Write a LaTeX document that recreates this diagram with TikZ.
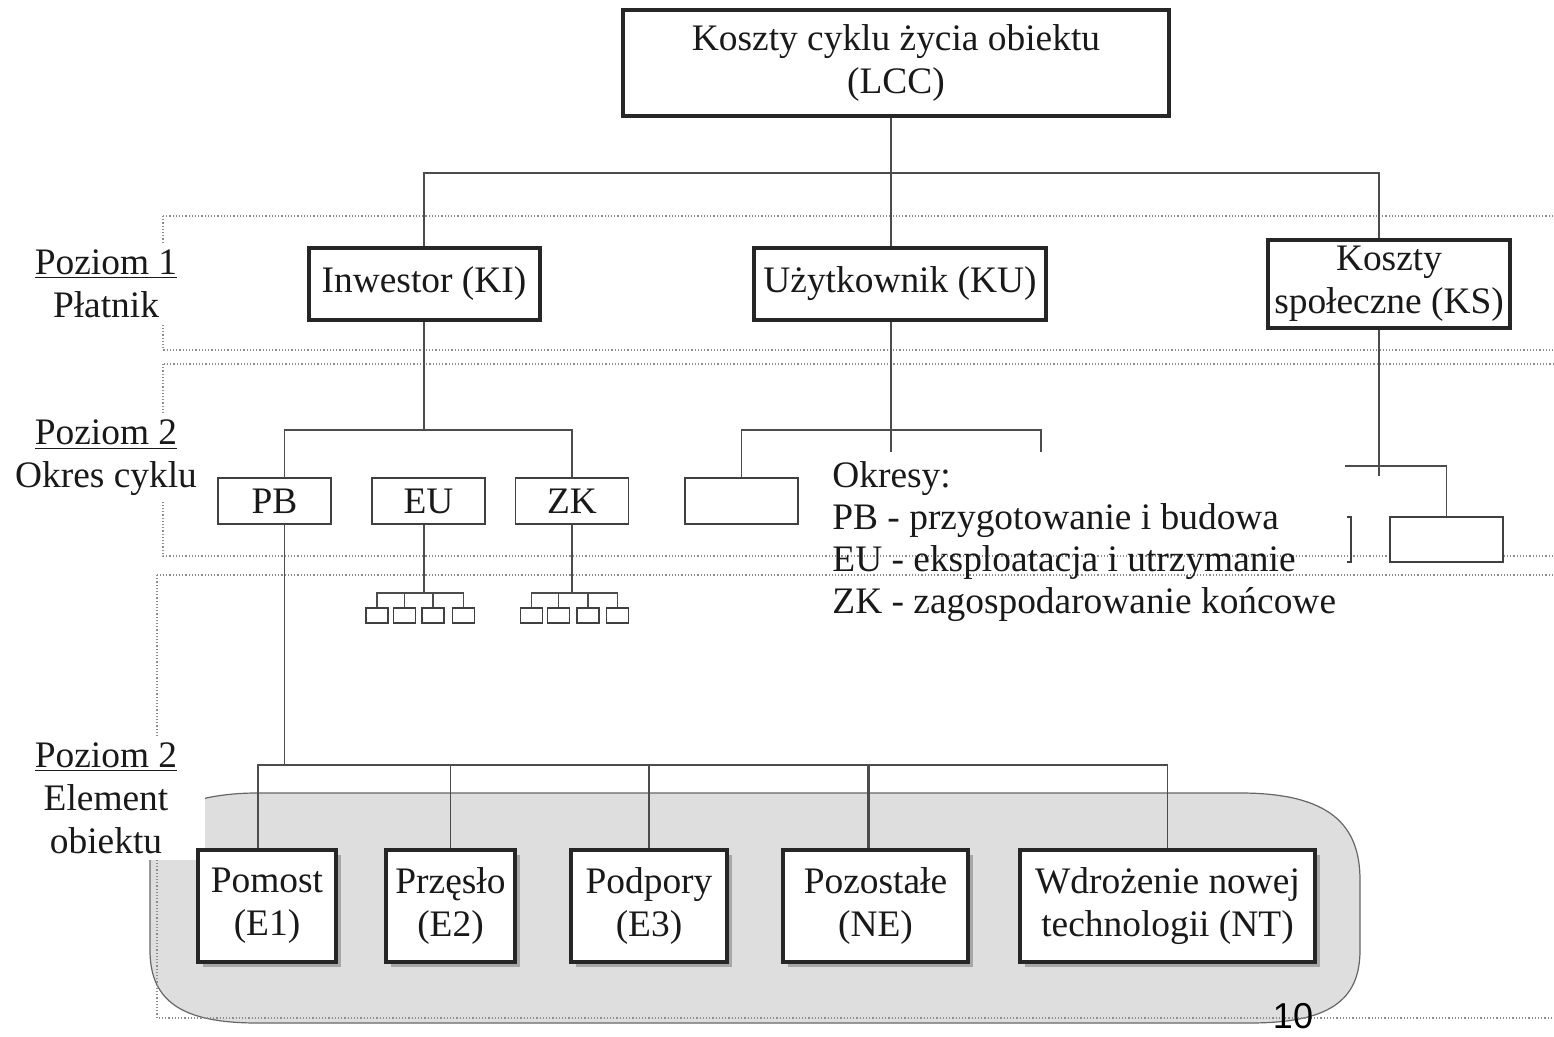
\documentclass[tikz,border=0pt]{standalone}
\usepackage{fontspec}
\setmainfont{Liberation Serif}
\newfontfamily\pagenofont{Liberation Sans}
\usetikzlibrary{shadows}

\tikzset{
  txt/.style={font=\fontsize{18.7}{21.5}\selectfont, align=center, text=black!90},
  mainbox/.style={txt, draw=black!85, line width=2pt, fill=white, inner sep=0pt},
  elembox/.style={mainbox, minimum height=56pt, drop shadow={shadow xshift=2.5pt, shadow yshift=-2.5pt, opacity=0.45, fill=black!60}},
  periodbox/.style={txt, draw=black!75, line width=0.6pt, fill=white, minimum width=56.5pt, minimum height=23pt, inner sep=0pt},
  tinybox/.style={draw=black!75, line width=0.6pt, minimum width=11pt, minimum height=7.5pt, inner sep=0pt},
  link/.style={draw=black!70, line width=0.7pt},
  band/.style={draw=black!45, densely dotted, line width=0.6pt},
  levellabel/.style={txt, fill=white, inner xsep=6pt, inner ysep=3pt}
}

\begin{document}
\begin{tikzpicture}[x=0.5pt, y=-0.5pt]
\useasboundingbox (0,0) rectangle (1554,1037);

\filldraw[fill=black!13, draw=black!60, line width=0.6pt] (257,793) -- (1240,793)
  .. controls (1330,793) and (1360,825) .. (1360,880) -- (1360,950)
  .. controls (1360,1000) and (1330,1023) .. (1250,1023) -- (257,1023)
  .. controls (180,1023) and (150,1000) .. (150,950) -- (150,840)
  .. controls (150,810) and (200,793) .. (257,793);

\draw[band] (163,216) rectangle (1580,350);
\draw[band] (163,364) rectangle (1580,556);
\draw[band] (157,575) rectangle (1580,1018);

\node[levellabel] (lev1) at (106,284) {\underline{Poziom 1}\\Płatnik};
\node[levellabel] (lev2) at (106,458) {\underline{Poziom 2}\\Okres cyklu};
\node[levellabel, inner xsep=14pt] (lev3) at (106,798) {\underline{Poziom 2}\\Element\\obiektu};

\node[mainbox, minimum width=273pt, minimum height=53pt] (lcc) at (896,63) {Koszty cyklu życia obiektu\\(LCC)};
\node[mainbox, minimum width=115.5pt, minimum height=36pt] (ki) at (424,284) {Inwestor (KI)};
\node[mainbox, minimum width=146pt, minimum height=36pt] (ku) at (900,284) {Użytkownik (KU)};
\node[mainbox, minimum width=121pt, minimum height=44pt] (ks) at (1389,284) {Koszty\\społeczne (KS)};

\coordinate (kubar) at (891,430);
\coordinate (kuend) at (891,452);
\coordinate (kuright) at (1041,452);
\coordinate (ksend) at (1379,476);
\coordinate (ksbar) at (1345,466);

\draw[link] (lcc.south -| kubar) -- (ku.north -| kubar);
\draw[link] (ki.north) |- (kubar |- 0,173) -| (ks.north -| ksend);

\node[periodbox] (pb) at (274.5,501) {PB};
\node[periodbox] (eu) at (428.5,501) {EU};
\node[periodbox] (zk) at (572,501) {ZK};
\node[periodbox] (kuleft) at (741.5,501) {};
\node[periodbox, minimum height=22.5pt] (ksright) at (1446.5,539.5) {};

\draw[link] (ki.south) -- (ki.south |- 0,430);
\draw[link] ([xshift=5pt]pb.north) |- (zk.north |- 0,430) -- (zk.north);
\draw[link] (eu.north -| ki.south) -- (eu.north -| ki.south |- 0,430);

\draw[link] (ku.south -| kubar) -- (kuend);
\draw[link] (kuleft.north) |- (kuright |- kubar) -- (kuright);

\draw[link] (ks.south -| ksend) -- (ksend);
\draw[link] (ksbar) -| (ksright.north);
\draw[black!75, line width=0.6pt] (1347,517) -- (1351,517) -- (1351,562) -- (1347,562);

\foreach \i/\x in {1/377,2/404.5,3/433,4/463.5}
  \node[tinybox] (eu\i) at (\x,615.5) {};
\foreach \i/\x in {1/531.5,2/558.5,3/588,4/617.5}
  \node[tinybox] (zk\i) at (\x,615.5) {};
\draw[link] (eu.south -| ki.south) -- (ki.south |- 0,593);
\draw[link] (eu1.north) |- (eu4.north |- 0,593) -- (eu4.north);
\draw[link] (zk.south) -- (zk.south |- 0,593);
\draw[link] (zk1.north) |- (zk4.north |- 0,593) -- (zk4.north);
\foreach \i in {2,3} {
  \draw[link] (eu\i.north) -- (eu\i.north |- 0,593);
  \draw[link] (zk\i.north) -- (zk\i.north |- 0,593);
}

\node[txt, align=left, anchor=north west, inner sep=0pt, font=\fontsize{18.7}{21}\selectfont] (legend) at (832,461)
  {Okresy:\\PB - przygotowanie i budowa\\EU - eksploatacja i utrzymanie\\ZK - zagospodarowanie końcowe};

\node[elembox, minimum width=69pt] (e1) at (267,906) {Pomost\\(E1)};
\node[elembox, minimum width=64.5pt] (e2) at (450.5,906) {Przęsło\\(E2)};
\node[elembox, minimum width=78pt] (e3) at (649,906) {Podpory\\(E3)};
\node[elembox, minimum width=92.5pt] (ne) at (875.5,906) {Pozostałe\\(NE)};
\node[elembox, minimum width=147.5pt] (nt) at (1167.5,906) {Wdrożenie nowej\\technologii (NT)};

\draw[link] ([xshift=5pt]pb.south) -- ([xshift=5pt]pb.south |- 0,765);
\draw[link] ([xshift=-4.5pt]e1.north) |- (nt.north |- 0,765) -- (nt.north);
\draw[link] (e2.north) -- (e2.north |- 0,765);
\draw[link] (e3.north) -- (e3.north |- 0,765);
\draw[link, line width=1.4pt] ([xshift=-3.5pt]ne.north) -- ([xshift=-3.5pt]ne.north |- 0,765);

\node[font=\pagenofont\fontsize{18}{18}\selectfont, anchor=base, inner sep=0pt] (pageno) at (1293,1028) {10};
\end{tikzpicture}
\end{document}
